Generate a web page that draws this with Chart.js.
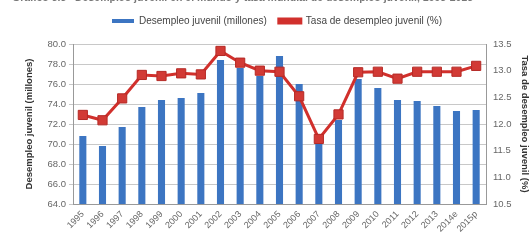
<!DOCTYPE html>
<html>
<head>
<meta charset="utf-8">
<script src="https://cdn.jsdelivr.net/npm/chart.js@4.4.1/dist/chart.umd.min.js"></script>
<style>
  html, body { margin: 0; padding: 0; background: #fff; overflow: hidden; }
  #wrap { position: relative; width: 530px; height: 243px; }
  #titre {
    position: absolute; left: 12px; top: -9px; white-space: nowrap;
    font: bold 10.5px "Liberation Sans", Arial, sans-serif; color: #777;
  }
</style>
</head>
<body>
<div id="wrap">
  <div id="titre">Gráfico 3.3&nbsp;&nbsp;&nbsp;Desempleo juvenil en el mundo y tasa mundial de desempleo juvenil, 1995-2015</div>
  <canvas id="myChart" width="530" height="243"></canvas>
</div>
<script>
//! Les données.

const annees = ['1995', '1996', '1997', '1998', '1999', '2000', '2001', '2002', '2003', '2004',
  '2005', '2006', '2007', '2008', '2009', '2010', '2011', '2012', '2013', '2014e', '2015p'];

// desempleo juvenil, millones (eje izquierdo)
const desempleo = [70.8, 69.8, 71.7, 73.7, 74.4, 74.6, 75.1, 78.4, 77.6, 76.8,
  78.8, 76.0, 70.9, 72.4, 76.5, 75.6, 74.4, 74.3, 73.8, 73.3, 73.4];

// tasa de desempleo juvenil, % (eje derecho)
const tasa = [12.17, 12.07, 12.48, 12.92, 12.9, 12.95, 12.93, 13.37, 13.15, 13.0,
  12.98, 12.52, 11.72, 12.18, 12.97, 12.98, 12.85, 12.98, 12.98, 12.98, 13.09];

const ticksGauche = { min: 64, max: 80, step: 2 };
const ticksDroite = { min: 10.5, max: 13.5, step: 0.5 };

//! --------------------------------------------------------------

const police = "'Liberation Sans', Arial, sans-serif";
const gris = '#666';

// un peu d'espace sous la légende
const espaceLegende = {
  id: 'espaceLegende',
  beforeInit(chart) {
    const fitOrig = chart.legend.fit;
    chart.legend.fit = function () {
      fitOrig.bind(chart.legend)();
      this.height += 8;
    };
  },
};

const data = {
  labels: annees,
  datasets: [
    {
      type: 'bar',
      label: 'Desempleo juvenil (millones)',
      data: desempleo,
      backgroundColor: '#3c75c2',
      borderWidth: 0,
      barPercentage: 0.36,
      categoryPercentage: 1,
      yAxisID: 'y',
      order: 2,
    },
    {
      type: 'line',
      label: 'Tasa de desempleo juvenil (%)',
      data: tasa,
      borderColor: '#d1302c',
      backgroundColor: '#d1302c',
      borderWidth: 3,
      pointStyle: 'rect',
      pointRadius: 6.5,
      pointBorderColor: '#b52a26',
      pointBorderWidth: 1,
      pointBackgroundColor: '#d23a35',
      lineTension: 0,
      yAxisID: 'y1',
      order: 1,
    },
  ],
};

const options = {
  responsive: false,
  animation: false,
  layout: { padding: { top: 4, left: 24, right: 0, bottom: 0 } },
  plugins: {
    tooltip: { enabled: false },
    legend: {
      position: 'top',
      labels: {
        color: '#444',
        font: { family: police, size: 10 },
        boxWidth: 22,
        boxHeight: 4,
        padding: 12,
        sort: (a, b) => a.datasetIndex - b.datasetIndex,
      },
    },
  },
  scales: {
    x: {
      afterFit: (s) => { s.height = 39; },
      grid: { display: false, drawTicks: true, tickLength: 3 },
      border: { color: '#999' },
      ticks: {
        color: gris,
        font: { family: police, size: 9 },
        maxRotation: 45,
        minRotation: 45,
        padding: 2,
      },
    },
    y: {
      position: 'left',
      min: ticksGauche.min,
      max: ticksGauche.max,
      afterFit: (s) => { s.width = 49; },
      grid: { color: '#c8c8c8', tickLength: 4 },
      border: { color: '#999' },
      ticks: {
        stepSize: ticksGauche.step,
        color: gris,
        font: { family: police, size: 9.5 },
        callback: (v) => v.toFixed(1),
      },
      title: {
        display: true,
        text: 'Desempleo juvenil (millones)',
        color: '#333',
        font: { family: police, size: 9.5, weight: 'bold' },
        padding: 0,
      },
    },
    y1: {
      position: 'right',
      min: ticksDroite.min,
      max: ticksDroite.max,
      afterFit: (s) => { s.width = 44; },
      grid: { display: false, tickLength: 4 },
      border: { color: '#999' },
      ticks: {
        stepSize: ticksDroite.step,
        color: gris,
        font: { family: police, size: 9.5 },
        callback: (v) => v.toFixed(1),
      },
      title: {
        display: true,
        text: 'Tasa de desempleo juvenil (%)',
        color: '#333',
        font: { family: police, size: 9.5, weight: 'bold' },
        padding: 0,
      },
    },
  },
};

const config = { type: 'bar', data, options, plugins: [espaceLegende] };

const myChart = new Chart(document.getElementById('myChart'), config);
</script>
</body>
</html>
